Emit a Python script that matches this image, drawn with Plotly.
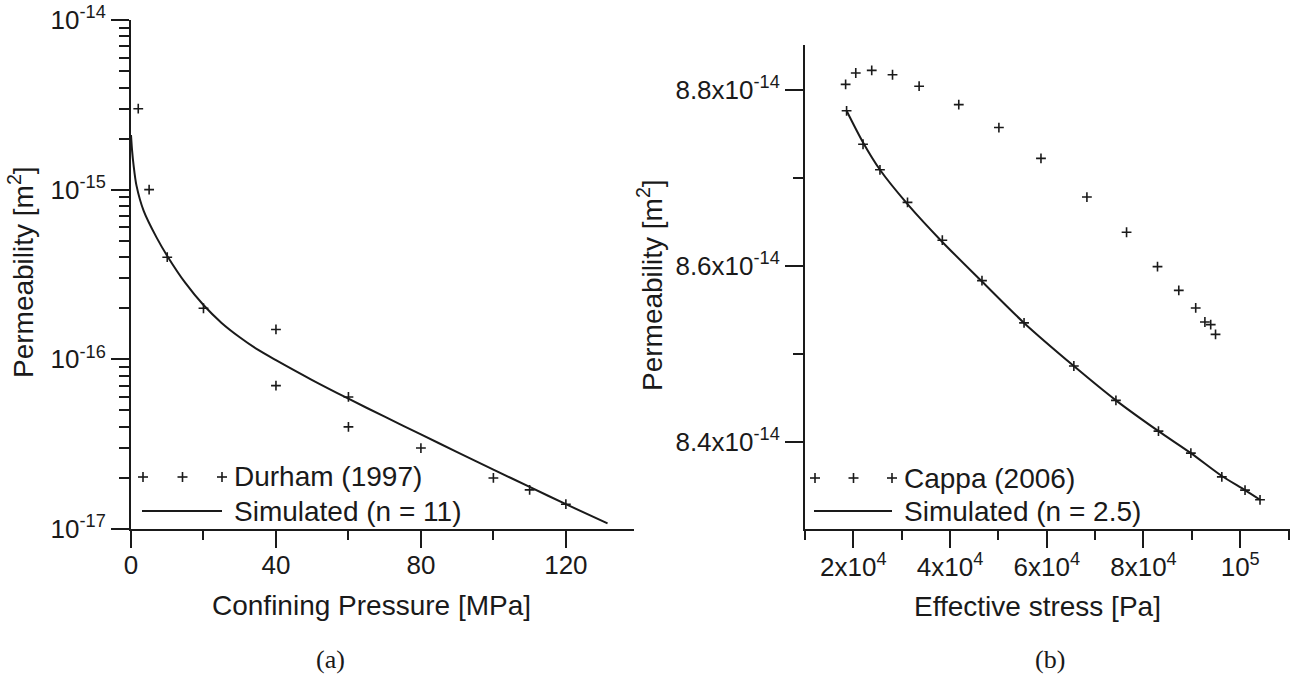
import plotly.graph_objects as go

# ---------------- Data: panel (a) ----------------
durham_x = [2, 5, 10, 20, 40, 40, 60, 60, 80, 100, 110, 120]
durham_y = [3e-15, 1e-15, 4e-16, 2e-16, 1.5e-16, 7e-17, 6e-17, 4e-17, 3e-17, 2e-17, 1.7e-17, 1.4e-17]

sim_a_x = [0, 0.3, 0.7, 1.5, 3.5, 7, 10, 15, 20, 25, 30, 35, 40, 50, 60, 70, 80, 90, 100, 110, 120, 131.5]
sim_a_y = [2.10e-15, 1.70e-15, 1.40e-15, 1.06e-15, 7.50e-16, 5.25e-16, 4.07e-16, 2.82e-16, 2.09e-16,
           1.64e-16, 1.35e-16, 1.14e-16, 9.89e-17, 7.55e-17, 5.86e-17, 4.59e-17, 3.61e-17, 2.84e-17,
           2.24e-17, 1.77e-17, 1.40e-17, 1.08e-17]

a_xticks = [0, 40, 80, 120]
a_yticks = [1e-17, 1e-16, 1e-15, 1e-14]
a_yticktext = ["10<sup>-17</sup>", "10<sup>-16</sup>", "10<sup>-15</sup>", "10<sup>-14</sup>"]

# ---------------- Data: panel (b) ----------------
cappa_x = [1.84e4, 2.05e4, 2.38e4, 2.81e4, 3.36e4, 4.18e4, 5.01e4, 5.88e4, 6.83e4, 7.65e4, 8.29e4,
           8.73e4, 9.08e4, 9.27e4, 9.39e4, 9.49e4,
           1.86e4, 2.2e4, 2.55e4, 3.12e4, 3.84e4, 4.66e4, 5.53e4, 6.56e4, 7.43e4, 8.31e4, 8.98e4,
           9.62e4, 1.01e5, 1.041e5]
cappa_y = [8.806e-14, 8.819e-14, 8.822e-14, 8.817e-14, 8.804e-14, 8.783e-14, 8.757e-14, 8.722e-14,
           8.678e-14, 8.638e-14, 8.599e-14, 8.572e-14, 8.552e-14, 8.536e-14, 8.533e-14, 8.522e-14,
           8.776e-14, 8.738e-14, 8.709e-14, 8.672e-14, 8.629e-14, 8.583e-14, 8.535e-14, 8.486e-14,
           8.447e-14, 8.412e-14, 8.387e-14, 8.360e-14, 8.345e-14, 8.334e-14]

sim_b_x = [1.86e4, 2.2e4, 2.55e4, 3.12e4, 3.84e4, 4.66e4, 5.53e4, 6.56e4, 7.43e4, 8.31e4, 8.98e4,
           9.62e4, 1.01e5, 1.041e5]
sim_b_y = [8.776e-14, 8.740e-14, 8.709e-14, 8.670e-14, 8.627e-14, 8.582e-14, 8.535e-14, 8.486e-14,
           8.447e-14, 8.412e-14, 8.387e-14, 8.361e-14, 8.345e-14, 8.334e-14]

b_xticks = [2e4, 4e4, 6e4, 8e4, 1e5]
b_xticktext = ["2x10<sup>4</sup>", "4x10<sup>4</sup>", "6x10<sup>4</sup>", "8x10<sup>4</sup>", "10<sup>5</sup>"]
b_yticks = [8.4e-14, 8.6e-14, 8.8e-14]
b_yticktext = ["8.4x10<sup>-14</sup>", "8.6x10<sup>-14</sup>", "8.8x10<sup>-14</sup>"]

# ---------------- Figure ----------------
W, H = 1303, 679
FONT = "Liberation Sans, Arial, sans-serif"
FS_TICK = 26
FS = 28
INK = "#1a1a1a"

def px(x):
    return x / W

def py(y):
    return 1 - y / H

fig = go.Figure()

marker_style = dict(symbol="cross-thin", size=7, line=dict(width=1.6, color=INK), color=INK)

fig.add_trace(go.Scatter(x=durham_x, y=durham_y, mode="markers", marker=marker_style,
                         name="Durham (1997)", xaxis="x", yaxis="y", showlegend=False))
fig.add_trace(go.Scatter(x=sim_a_x, y=sim_a_y, mode="lines", line=dict(color=INK, width=2, shape="spline", smoothing=0.8),
                         name="Simulated (n = 11)", xaxis="x", yaxis="y", showlegend=False))
fig.add_trace(go.Scatter(x=cappa_x, y=cappa_y, mode="markers", marker=marker_style,
                         name="Cappa (2006)", xaxis="x2", yaxis="y2", showlegend=False))
fig.add_trace(go.Scatter(x=sim_b_x, y=sim_b_y, mode="lines", line=dict(color=INK, width=2, shape="spline", smoothing=0.8),
                         name="Simulated (n = 2.5)", xaxis="x2", yaxis="y2", showlegend=False))

axis_common = dict(showline=True, linecolor=INK, linewidth=2, ticks="outside", tickwidth=2,
                   tickcolor=INK, showgrid=False, zeroline=False, automargin=False,
                   tickfont=dict(family=FONT, size=FS_TICK, color=INK))

def minor(dtick, length, tick0=None):
    d = dict(dtick=dtick, ticks="outside", ticklen=length, tickwidth=2, tickcolor=INK, showgrid=False)
    if tick0 is not None:
        d["tick0"] = tick0
    return d

fig.update_layout(
    width=W, height=H,
    margin=dict(l=0, r=0, t=0, b=0, autoexpand=False),
    paper_bgcolor="white", plot_bgcolor="white",
    showlegend=False,
    xaxis=dict(axis_common, domain=[px(131), px(634)], range=[0, 138.8], anchor="y",
               tickmode="array", tickvals=a_xticks, ticklen=17, ticklabelstandoff=-5,
               minor=minor(20, 9, 0)),
    yaxis=dict(axis_common, domain=[py(529), py(20)], type="log", range=[-17, -14], anchor="x",
               tickmode="array", tickvals=a_yticks, ticktext=a_yticktext, ticklen=18,
               minor=minor("D1", 10)),
    xaxis2=dict(axis_common, domain=[px(805), px(1290)], range=[1.0e4, 1.103e5], anchor="y2",
                tickmode="array", tickvals=b_xticks, ticktext=b_xticktext, ticklen=17, ticklabelstandoff=-3,
                minor=minor(1e4, 9, 0)),
    yaxis2=dict(axis_common, domain=[py(529), py(45)], range=[8.3008e-14, 8.8508e-14], anchor="x2",
                tickmode="array", tickvals=b_yticks, ticktext=b_yticktext, ticklen=18,
                minor=minor(1e-15, 10, 0)),
)

annotations = []
def text(x, y, s, size=FS, angle=0, xanchor="center", family=FONT):
    annotations.append(dict(x=px(x), y=py(y), xref="paper", yref="paper", text=s, showarrow=False,
                            xanchor=xanchor, yanchor="middle", textangle=angle,
                            font=dict(family=family, size=size, color=INK)))

# axis titles
text(372, 605, "Confining Pressure [MPa]")
text(21, 272, "Permeability [m<sup>2</sup>]", angle=-90)
text(1037, 606, "Effective stress [Pa]")
text(650, 285, "Permeability [m<sup>2</sup>]", angle=-90)
# panel labels
text(330, 659, "(a)", size=26, family="Liberation Serif, Times New Roman, serif")
text(1050, 659, "(b)", size=26, family="Liberation Serif, Times New Roman, serif")

# legends (drawn manually: three crosses + line sample)
shapes = []
def cross(x, y, r=5):
    shapes.append(dict(type="line", xref="paper", yref="paper", x0=px(x - r), x1=px(x + r), y0=py(y), y1=py(y),
                       line=dict(color=INK, width=1.6)))
    shapes.append(dict(type="line", xref="paper", yref="paper", x0=px(x), x1=px(x), y0=py(y - r), y1=py(y + r),
                       line=dict(color=INK, width=1.6)))

def legend(x0, x_text, y_marker, y_line, x_line_end, lab1, lab2):
    for cx in (x0, (x0 + x_line_end) / 2, x_line_end):
        cross(cx, y_marker)
    shapes.append(dict(type="line", xref="paper", yref="paper", x0=px(x0 - 1), x1=px(x_line_end), y0=py(y_line), y1=py(y_line),
                       line=dict(color=INK, width=2)))
    text(x_text, y_marker, lab1, xanchor="left")
    text(x_text, y_line, lab2, xanchor="left")

legend(143, 232, 477, 511, 222, "Durham (1997)", "Simulated (n = 11)")
legend(815, 902, 478, 511, 892, "Cappa (2006)", "Simulated (n = 2.5)")

fig.update_layout(annotations=annotations, shapes=shapes)

fig.write_html("out.html")
